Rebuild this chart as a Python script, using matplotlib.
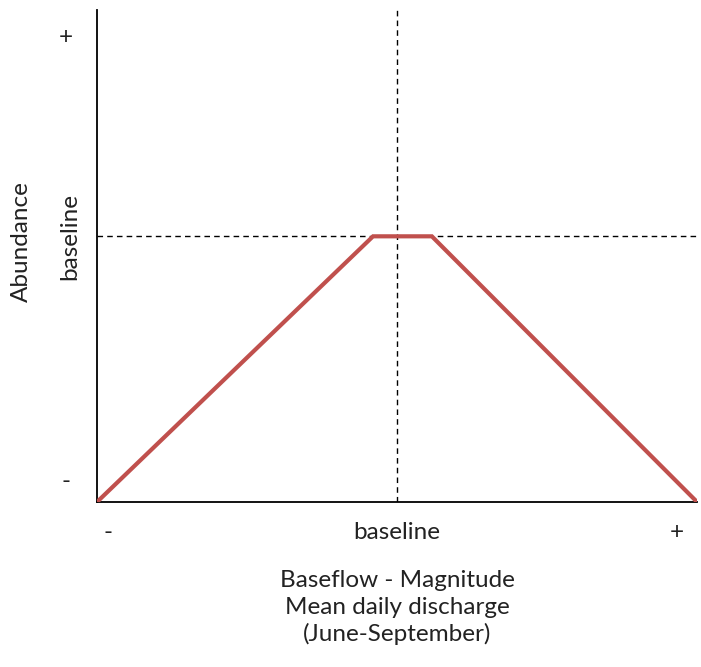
import matplotlib.pyplot as plt

# conceptual response curve (relative units)
x_vals = [0.0, 0.46, 0.558, 1.0]
y_vals = [0.0, 0.54, 0.54, 0.0]
baseline_x = 0.5
baseline_y = 0.54

x_tick_pos = [0.018, 0.5, 0.967]
x_tick_labels = ['-', 'baseline', '+']
y_tick_pos = [0.042, 0.54, 0.945]
y_tick_labels = ['-', 'baseline', '+']

plt.rcParams['font.family'] = ['Lato', 'DejaVu Sans']
fs = 17.5

fig = plt.figure(figsize=(7.01, 6.67), dpi=100)
ax = fig.add_axes([0.1384, 0.2474, 0.856, 0.7376])

ax.plot(x_vals, y_vals, color='#C0504D', linewidth=3, solid_joinstyle='miter', zorder=3)
ax.axvline(baseline_x, color='black', linestyle=(0, (4, 3)), linewidth=1)
ax.axhline(baseline_y, color='black', linestyle=(0, (4, 3)), linewidth=1)

ax.set_xlim(0, 1)
ax.set_ylim(0, 1)
ax.spines['top'].set_visible(False)
ax.spines['right'].set_visible(False)
ax.spines['left'].set_linewidth(1.3)
ax.spines['bottom'].set_linewidth(1.3)
ax.set_xticks([])
ax.set_yticks([])

# tick-like labels
for xp, lab in zip(x_tick_pos, x_tick_labels):
    ax.text(xp, -0.062, lab, transform=ax.transAxes, ha='center', va='center',
            fontsize=fs, color='#222222')
for yp, lab in zip(y_tick_pos, y_tick_labels):
    if lab == 'baseline':
        ax.text(-0.045, yp, lab, transform=ax.transAxes, ha='center', va='center',
                rotation=90, fontsize=fs, color='#222222')
    else:
        ax.text(-0.052, yp, lab, transform=ax.transAxes, ha='center', va='center',
                fontsize=fs, color='#222222')

ax.text(-0.126, 0.53, 'Abundance', transform=ax.transAxes, ha='center', va='center',
        rotation=90, fontsize=fs, color='#222222')
ax.text(0.5, -0.215, 'Baseflow - Magnitude\nMean daily discharge\n(June-September)',
        transform=ax.transAxes, ha='center', va='center', fontsize=fs,
        color='#222222', linespacing=1.32)

fig.savefig('out.png', dpi=100)
